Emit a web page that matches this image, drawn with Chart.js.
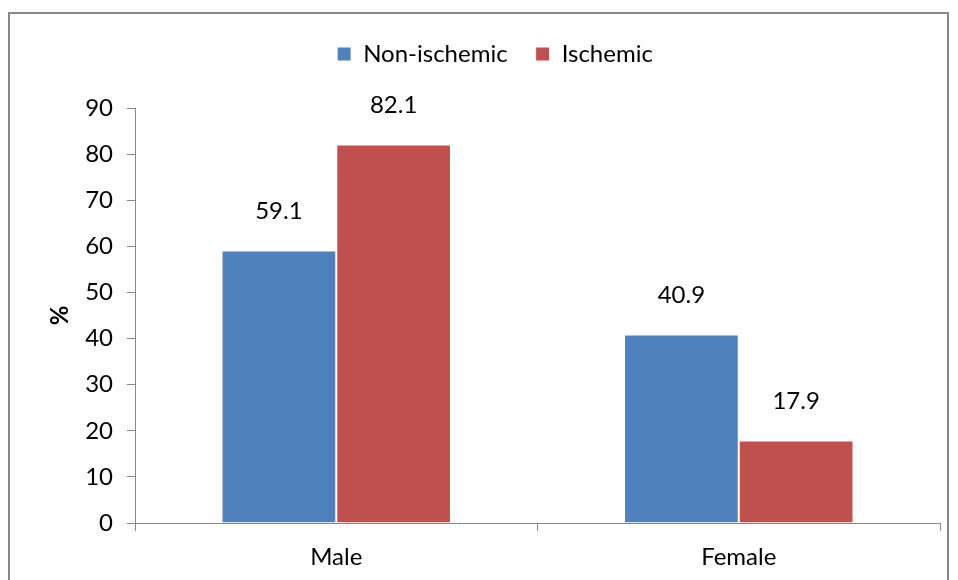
<!DOCTYPE html>
<html><head><meta charset="utf-8">
<script src="https://cdn.jsdelivr.net/npm/chart.js@4"></script>
<style>html,body{margin:0;padding:0;background:#fff;overflow:hidden}#c{display:block}</style>
</head><body>
<canvas id="c" width="958" height="580"></canvas>
<script>
const categories = ["Male", "Female"];
const nonIschemic = [59.1, 40.9];
const ischemic = [82.1, 17.9];
const seriesNames = ["Non-ischemic", "Ischemic"];
const yTicks = [0, 10, 20, 30, 40, 50, 60, 70, 80, 90];

const FONT = "Lato";
const borderPlugin = {
  id: 'outerBorder',
  afterInit(chart) {
    const lg = chart.legend;
    if (lg) {
      const orig = lg.fit.bind(lg);
      lg.fit = function () { orig(); this.height += 32; };
    }
  },
  afterLayout(chart) {
    const lg = chart.legend;
    if (lg) { lg.left += 25; lg.right += 25; }
  },
  beforeDraw(chart) {
    const ctx = chart.ctx;
    ctx.save();
    ctx.fillStyle = '#fff';
    ctx.fillRect(0, 0, chart.width, chart.height);
    ctx.strokeStyle = '#888';
    ctx.lineWidth = 2;
    ctx.strokeRect(9, 13, 939, 600);
    ctx.restore();
  }
};
const labelPlugin = {
  id: 'valueLabels',
  afterDatasetsDraw(chart) {
    const ctx = chart.ctx;
    ctx.save();
    ctx.font = `24px ${FONT}`;
    ctx.fillStyle = '#000';
    ctx.textAlign = 'center';
    ctx.textBaseline = 'middle';
    chart.data.datasets.forEach((ds, i) => {
      chart.getDatasetMeta(i).data.forEach((bar, j) => {
        ctx.fillText(ds.data[j].toFixed(1), bar.x, bar.y - 39);
      });
    });
    ctx.restore();
  }
};

new Chart(document.getElementById('c'), {
  type: 'bar',
  data: {
    labels: categories,
    datasets: [
      { label: seriesNames[0], data: nonIschemic, backgroundColor: '#4F81BD', borderColor: '#ffffff', borderWidth: 1 },
      { label: seriesNames[1], data: ischemic, backgroundColor: '#C0504D', borderColor: '#ffffff', borderWidth: 1 }
    ]
  },
  options: {
    responsive: false,
    animation: false,
    devicePixelRatio: 1,
    layout: { padding: { left: 0, right: 18, top: 14, bottom: 0 } },
    datasets: { bar: { categoryPercentage: 0.57, barPercentage: 1.0 } },
    plugins: {
      legend: {
        position: 'top',
        labels: { font: { family: FONT, size: 24 }, color: '#000', boxWidth: 14, boxHeight: 14, padding: 28 }
      },
      tooltip: { enabled: false }
    },
    scales: {
      x: {
        afterFit(scale) { scale.height = 57; },
        grid: { display: true, drawOnChartArea: false, drawTicks: true, tickLength: 8, color: '#888', offset: true },
        border: { display: true, color: '#888', width: 1 },
        ticks: { font: { family: FONT, size: 24 }, color: '#000', padding: 12 }
      },
      y: {
        min: 0, max: 90,
        afterBuildTicks(scale) { scale.ticks = yTicks.map(v => ({ value: v })); },
        afterFit(scale) { scale.width = 135; },
        grid: { display: true, drawOnChartArea: false, drawTicks: true, tickLength: 8, color: '#888' },
        border: { display: true, color: '#888', width: 1 },
        ticks: { font: { family: FONT, size: 24 }, color: '#000', padding: 14 },
        title: { display: true, text: '%', font: { family: FONT, size: 24, weight: 'bold' }, color: '#000', padding: { top: 46, bottom: 0 } }
      }
    }
  },
  plugins: [borderPlugin, labelPlugin]
});
</script>
</body></html>
